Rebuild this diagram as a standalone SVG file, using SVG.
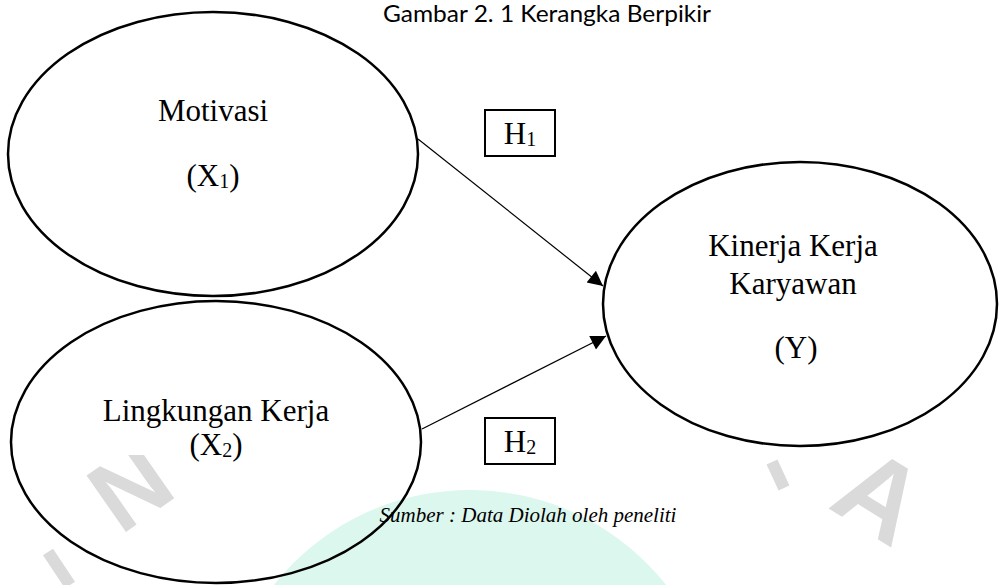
<svg xmlns="http://www.w3.org/2000/svg" width="999" height="585" viewBox="0 0 999 585">
<style>
.node{fill:none;stroke:#000;stroke-width:2.5}
.box{fill:none;stroke:#000;stroke-width:2}
.t{font-family:"Liberation Serif","Times New Roman",serif;font-size:31px;fill:#000;text-anchor:middle}
.sub{font-size:20px}
.title{font-family:Lato,"Open Sans",sans-serif;font-size:23px;fill:#000;text-anchor:middle}
.cap{font-family:"Liberation Serif","Times New Roman",serif;font-size:21px;font-style:italic;fill:#000;text-anchor:middle}
.wm{font-family:"Liberation Sans",Arial,sans-serif;font-weight:bold;fill:#dadada;text-anchor:middle}
.wml{stroke:#dadada;stroke-width:12;fill:none}
.edge{stroke:#000;stroke-width:1.2;fill:none}
</style>
<defs>
<marker id="ah" viewBox="0 0 10 10" refX="10" refY="5" markerWidth="20" markerHeight="15" markerUnits="userSpaceOnUse" orient="auto">
<path d="M0,0 L10,5 L0,10 z" fill="#000"/>
</marker>
</defs>
<g id="watermark">
<circle cx="470" cy="740" r="250" fill="#dcf7ed"/>
<text class="wm" font-size="100" transform="translate(150,515) rotate(-35)">N</text>
<text class="wm" font-size="110" transform="translate(860,528) rotate(32)">A</text>
<line class="wml" x1="48" y1="552" x2="70" y2="585"/>
<line class="wml" x1="772" y1="462" x2="784" y2="488"/>
<rect x="115" y="425" width="175" height="30" fill="#fff"/>
</g>
<text class="title" x="547" y="22" textLength="328" lengthAdjust="spacingAndGlyphs">Gambar 2. 1 Kerangka Berpikir</text>
<g id="connectors">
<line class="edge" x1="418" y1="139" x2="603" y2="286" marker-end="url(#ah)"/>
<line class="edge" x1="422" y1="429" x2="606" y2="336" marker-end="url(#ah)"/>
</g>
<g id="motivasi">
<ellipse class="node" cx="213" cy="154" rx="205" ry="142"/>
<text class="t" x="213" y="121">Motivasi</text>
<text class="t" x="213" y="186">(X<tspan class="sub" dy="2">1</tspan><tspan dy="-2">)</tspan></text>
</g>
<g id="lingkungan">
<ellipse class="node" cx="216" cy="442" rx="205" ry="141"/>
<text class="t" x="216" y="421">Lingkungan Kerja</text>
<text class="t" x="216" y="455">(X<tspan class="sub" dy="2">2</tspan><tspan dy="-2">)</tspan></text>
</g>
<g id="kinerja">
<ellipse class="node" cx="800" cy="304" rx="197" ry="142"/>
<text class="t" x="793" y="256">Kinerja Kerja</text>
<text class="t" x="793" y="294">Karyawan</text>
<text class="t" x="796" y="358">(Y)</text>
</g>
<g id="h1">
<rect class="box" x="485" y="110" width="70" height="46"/>
<text class="t" x="520" y="144">H<tspan class="sub" dy="2">1</tspan></text>
</g>
<g id="h2">
<rect class="box" x="485" y="418" width="70" height="46"/>
<text class="t" x="520" y="452">H<tspan class="sub" dy="2">2</tspan></text>
</g>
<text class="cap" x="528" y="522">Sumber : Data Diolah oleh peneliti</text>
</svg>
